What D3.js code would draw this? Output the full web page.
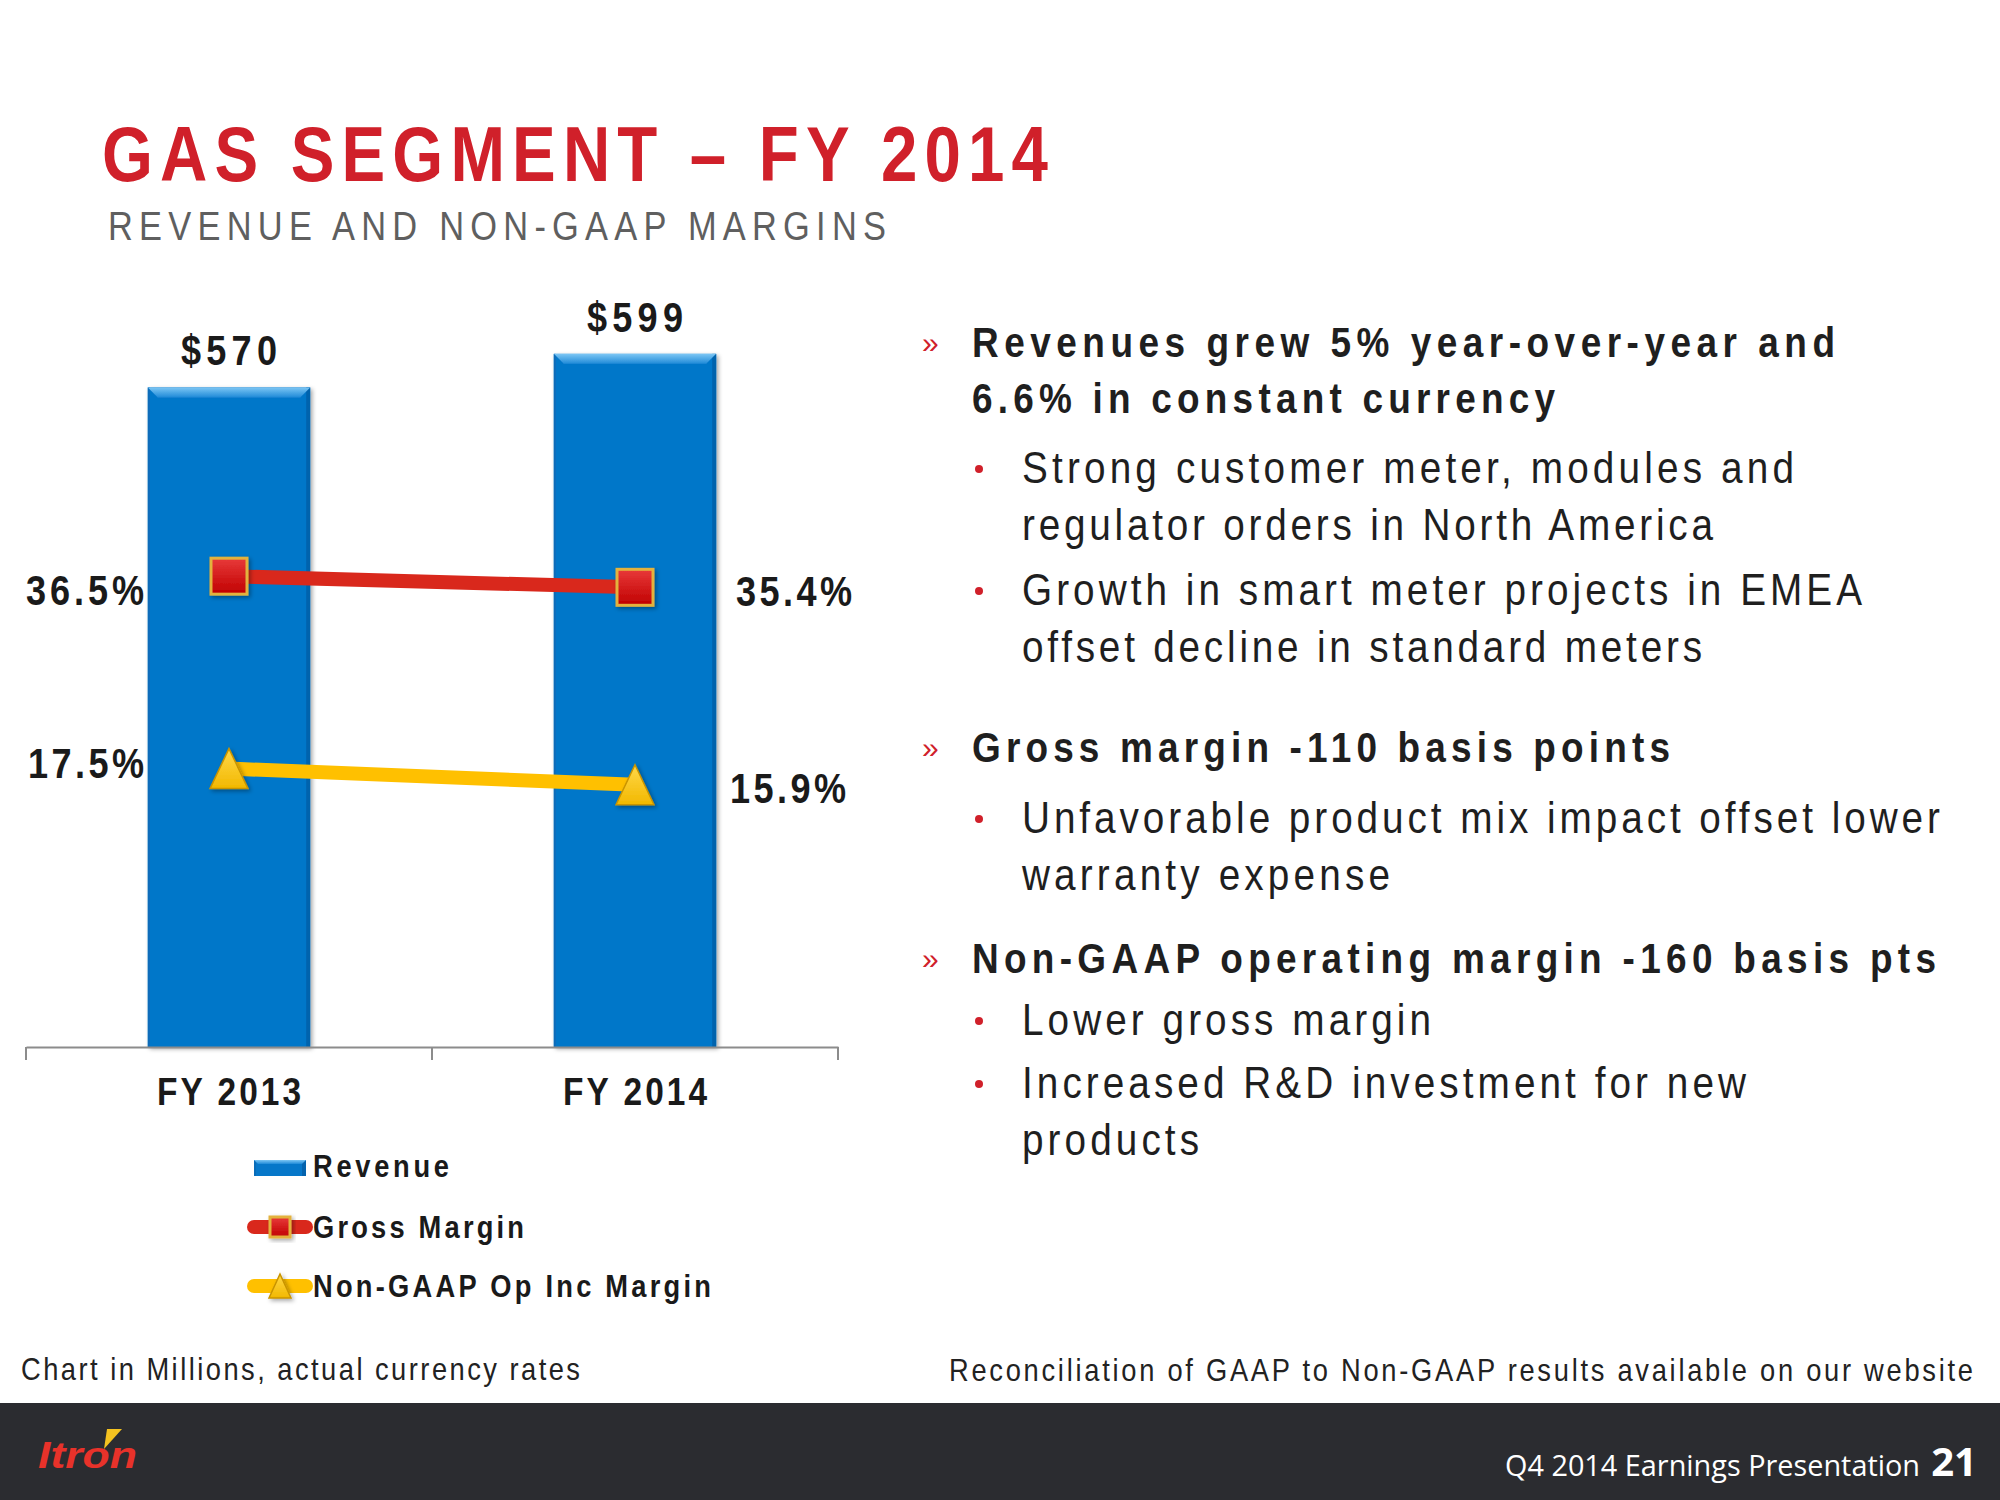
<!DOCTYPE html>
<html>
<head>
<meta charset="utf-8">
<script src="https://cdn.jsdelivr.net/npm/d3@7"></script>
<style>
  html, body { margin: 0; padding: 0; background: #ffffff; }
  svg { display: block; }
</style>
</head>
<body>
<svg id="chart" width="2000" height="1500"></svg>
<script>
// ---------- DATA ----------
const categories = ["FY 2013", "FY 2014"];
const revenue = [570, 599];              // $ millions
const grossMargin = [36.5, 35.4];        // %
const opIncMargin = [17.5, 15.9];        // %
const revenueLabels = ["$570", "$599"];
const grossLabels = ["36.5%", "35.4%"];
const opIncLabels = ["17.5%", "15.9%"];
const legendNames = ["Revenue", "Gross Margin", "Non-GAAP Op Inc Margin"];
const revenueDomain = [0, 700];
const marginDomain = [-10, 70];

const titleText = "GAS SEGMENT \u2013 FY 2014";
const subtitleText = "REVENUE AND NON-GAAP MARGINS";
const bullets = [
  { level: 0, lines: ["Revenues grew 5% year-over-year and", "6.6% in constant currency"] },
  { level: 1, lines: ["Strong customer meter, modules and", "regulator orders in North America"] },
  { level: 1, lines: ["Growth in smart meter projects in EMEA", "offset decline in standard meters"] },
  { level: 0, lines: ["Gross margin -110 basis points"] },
  { level: 1, lines: ["Unfavorable product mix impact offset lower", "warranty expense"] },
  { level: 0, lines: ["Non-GAAP operating margin -160 basis pts"] },
  { level: 1, lines: ["Lower gross margin"] },
  { level: 1, lines: ["Increased R&D investment for new", "products"] }
];
const noteLeft = "Chart in Millions, actual currency rates";
const noteRight = "Reconciliation of GAAP to Non-GAAP results available on our website";
const footerText = "Q4 2014 Earnings Presentation";
const pageNumber = "21";

// ---------- LAYOUT ----------
const svg = d3.select("#chart");
const SANS = "'Liberation Sans', Arial, sans-serif";
const SX = 0.88; // horizontal condensing to imitate a narrow face

// condensed text with letter spacing fitted to a measured width
function ntext(parent, txt, xx, yy, o) {
  const sx = o.sx || SX;
  const t = parent.append("text")
    .attr("transform", `translate(${xx},${yy}) scale(${sx},1)`)
    .attr("x", 0).attr("y", 0)
    .attr("text-anchor", o.anchor || "start")
    .attr("font-family", SANS)
    .attr("font-weight", o.weight || "normal")
    .attr("font-size", o.size)
    .attr("fill", o.fill || "#1f1f1f")
    .text(txt);
  if (o.width) t.attr("textLength", o.width / sx).attr("lengthAdjust", "spacing");
  return t;
}

const plot = { left: 26, right: 838, top: 237, bottom: 1047 };

const x = d3.scaleBand().domain(categories).range([plot.left, plot.right]).padding(0);
const yRev = d3.scaleLinear().domain(revenueDomain).range([plot.bottom, plot.top]);
const yPct = d3.scaleLinear().domain(marginDomain).range([plot.bottom, plot.top]);
const barW = x.bandwidth() * 0.4;
const cx = d => x(d) + x.bandwidth() / 2;

const defs = svg.append("defs");
const g1 = defs.append("linearGradient").attr("id", "bevelTop").attr("x1", 0).attr("y1", 0).attr("x2", 0).attr("y2", 1);
g1.append("stop").attr("offset", "0%").attr("stop-color", "#7cc6f4");
g1.append("stop").attr("offset", "100%").attr("stop-color", "#1f8ad8");
const gSq = defs.append("linearGradient").attr("id", "sqGrad").attr("x1", 0).attr("y1", 0).attr("x2", 0).attr("y2", 1);
gSq.append("stop").attr("offset", "0%").attr("stop-color", "#e83a3a");
gSq.append("stop").attr("offset", "100%").attr("stop-color", "#c00000");
const gTri = defs.append("linearGradient").attr("id", "triGrad").attr("x1", 0).attr("y1", 0).attr("x2", 0).attr("y2", 1);
gTri.append("stop").attr("offset", "0%").attr("stop-color", "#ffd84a");
gTri.append("stop").attr("offset", "100%").attr("stop-color", "#f2b800");
const sh = defs.append("filter").attr("id", "shadow").attr("x", "-20%").attr("y", "-20%").attr("width", "150%").attr("height", "150%");
sh.append("feDropShadow").attr("dx", 2).attr("dy", 2).attr("stdDeviation", 2).attr("flood-color", "#000").attr("flood-opacity", 0.35);

// ---------- TITLE ----------
ntext(svg, titleText, 102, 181, { size: 77, weight: "bold", fill: "#d0202a", width: 946, sx: 0.85 });
ntext(svg, subtitleText, 108, 240, { size: 41, fill: "#5f5f5f", width: 778, sx: 0.84 });

// ---------- BARS ----------
function bevelBar(gg, x0, y0, w, h, b) {
  gg.append("rect").attr("x", x0).attr("y", y0).attr("width", w).attr("height", h).attr("fill", "#0677c9");
  gg.append("rect").attr("x", x0 + w - 4).attr("y", y0).attr("width", 4).attr("height", h).attr("fill", "#0563ad");
  gg.append("rect").attr("x", x0).attr("y", y0).attr("width", 2).attr("height", h).attr("fill", "#0a6cb8");
  gg.append("polygon")
    .attr("points", [[x0, y0], [x0 + w, y0], [x0 + w - b, y0 + b], [x0 + b, y0 + b]].map(p => p.join(",")).join(" "))
    .attr("fill", "url(#bevelTop)");
}
const barsG = svg.append("g");
categories.forEach((c, i) => {
  const gg = barsG.append("g").attr("filter", "url(#shadow)");
  bevelBar(gg, cx(c) - barW / 2, yRev(revenue[i]), barW, plot.bottom - yRev(revenue[i]), 10);
});

// ---------- X AXIS ----------
const axisG = svg.append("g").attr("transform", `translate(0,${plot.bottom})`);
axisG.call(d3.axisBottom(x).tickSize(0).tickFormat(""));
axisG.select(".domain").attr("stroke", "#8c8c8c").attr("stroke-width", 2);
axisG.selectAll(".tick").each(function (d) {
  ntext(d3.select(this), d, 0, 58, { size: 38, weight: "bold", fill: "#1a1a1a", width: 144, anchor: "middle" });
});
const edges = categories.map(c => x(c)).concat([x(categories[categories.length - 1]) + x.bandwidth()]);
axisG.selectAll("line.edge").data(edges).join("line").attr("class", "edge")
  .attr("x1", d => d).attr("x2", d => d).attr("y1", 0).attr("y2", 13)
  .attr("stroke", "#8c8c8c").attr("stroke-width", 2);

// ---------- LINES ----------
const lineGen = d3.line().x((d, i) => cx(categories[i])).y(d => yPct(d));
svg.append("path").datum(grossMargin).attr("d", lineGen)
  .attr("fill", "none").attr("stroke", "#d9281c").attr("stroke-width", 14);
svg.append("path").datum(opIncMargin).attr("d", lineGen)
  .attr("fill", "none").attr("stroke", "#ffc000").attr("stroke-width", 14);

function square(gg, cxp, cyp, s) {
  gg.append("rect").attr("x", cxp - s / 2).attr("y", cyp - s / 2).attr("width", s).attr("height", s)
    .attr("fill", "url(#sqGrad)").attr("stroke", "#e3b23c").attr("stroke-width", 3).attr("filter", "url(#shadow)");
}
function triangle(gg, cxp, cyp, w, h) {
  gg.append("polygon")
    .attr("points", [[cxp, cyp - h / 2], [cxp + w / 2, cyp + h / 2], [cxp - w / 2, cyp + h / 2]].map(p => p.join(",")).join(" "))
    .attr("fill", "url(#triGrad)").attr("stroke", "#c99400").attr("stroke-width", 1.5).attr("filter", "url(#shadow)");
}
const markG = svg.append("g");
grossMargin.forEach((v, i) => square(markG, cx(categories[i]), yPct(v), 36));
opIncMargin.forEach((v, i) => triangle(markG, cx(categories[i]), yPct(v), 38, 40));

// ---------- DATA LABELS ----------
const lbl = (t, xx, yy, anchor, w) => ntext(svg, t, xx, yy, { size: 43, weight: "bold", fill: "#1a1a1a", width: w, anchor: anchor, sx: 0.84 });
revenueLabels.forEach((t, i) => lbl(t, cx(categories[i]), yRev(revenue[i]) - 22, "middle", 96));
// FY2013 labels to the left, FY2014 labels to the right
lbl(grossLabels[0], cx(categories[0]) - 203, yPct(grossMargin[0]) + 29, "start", 118);
lbl(grossLabels[1], cx(categories[1]) + 101, yPct(grossMargin[1]) + 19, "start", 116);
lbl(opIncLabels[0], cx(categories[0]) - 201, yPct(opIncMargin[0]) + 9, "start", 116);
lbl(opIncLabels[1], cx(categories[1]) + 95, yPct(opIncMargin[1]) + 18, "start", 116);

// ---------- LEGEND ----------
const legTextX = 313;
const legBase = [1177, 1238, 1297];
const legLens = [136, 211, 398];
const legG = svg.append("g");
legendNames.forEach((n, i) => {
  ntext(legG, n, legTextX, legBase[i], { size: 31, weight: "bold", fill: "#1a1a1a", width: legLens[i] });
});
bevelBar(legG, 254, 1160, 52, 16, 4);
const midY = b => b - 11;
legG.append("line").attr("x1", 254).attr("x2", 306).attr("y1", midY(legBase[1])).attr("y2", midY(legBase[1]))
  .attr("stroke", "#d9281c").attr("stroke-width", 14).attr("stroke-linecap", "round");
square(legG, 280, midY(legBase[1]), 20);
legG.append("line").attr("x1", 254).attr("x2", 306).attr("y1", midY(legBase[2])).attr("y2", midY(legBase[2]))
  .attr("stroke", "#ffc000").attr("stroke-width", 14).attr("stroke-linecap", "round");
triangle(legG, 280, midY(legBase[2]), 22, 24);

// ---------- RIGHT TEXT PANEL ----------
const panel = svg.append("g");
const baselines = [[357, 413], [483, 540], [605, 662], [762], [833, 890], [973], [1035], [1098, 1155]];
const widths = [[863, 583], [772, 691], [840, 680], [698], [918, 368], [964], [409], [724, 177]];
bullets.forEach((b, i) => {
  const tx = b.level === 0 ? 972 : 1022;
  if (b.level === 0) {
    panel.append("text").attr("x", 922).attr("y", baselines[i][0] - 4)
      .attr("font-family", SANS).attr("font-size", 30).attr("fill", "#d0202a").text("\u00bb");
  } else {
    panel.append("circle").attr("cx", 979).attr("cy", baselines[i][0] - 14).attr("r", 4).attr("fill", "#d0202a");
  }
  b.lines.forEach((ln, j) => {
    ntext(panel, ln, tx, baselines[i][j], {
      size: b.level === 0 ? 42 : 44, weight: b.level === 0 ? "bold" : "normal",
      fill: "#1f1f1f", width: widths[i][j]
    });
  });
});

// ---------- NOTES ----------
ntext(svg, noteLeft, 21, 1380, { size: 31, fill: "#222", width: 559 });
ntext(svg, noteRight, 949, 1381, { size: 31, fill: "#222", width: 1024 });

// ---------- FOOTER ----------
svg.append("rect").attr("x", 0).attr("y", 1403).attr("width", 2000).attr("height", 97).attr("fill", "#2b2c30");
svg.append("text").attr("x", 38).attr("y", 1468)
  .attr("font-family", SANS).attr("font-weight", "bold").attr("font-style", "italic")
  .attr("font-size", 37).attr("fill", "#e8322a").attr("textLength", 99).attr("lengthAdjust", "spacingAndGlyphs").text("Itron");
svg.append("polygon").attr("points", "107,1429 122,1429 104,1449").attr("fill", "#f5c320");
svg.append("text").attr("x", 1920).attr("y", 1476).attr("text-anchor", "end")
  .attr("font-family", "'Open Sans', 'Noto Sans', sans-serif").attr("font-size", 29).attr("fill", "#ffffff")
  .attr("textLength", 415).attr("lengthAdjust", "spacingAndGlyphs").text(footerText);
svg.append("text").attr("x", 1977).attr("y", 1476).attr("text-anchor", "end")
  .attr("font-family", "'Open Sans', 'Noto Sans', sans-serif").attr("font-weight", "bold").attr("font-size", 40).attr("fill", "#ffffff")
  .text(pageNumber);
</script>
</body>
</html>
